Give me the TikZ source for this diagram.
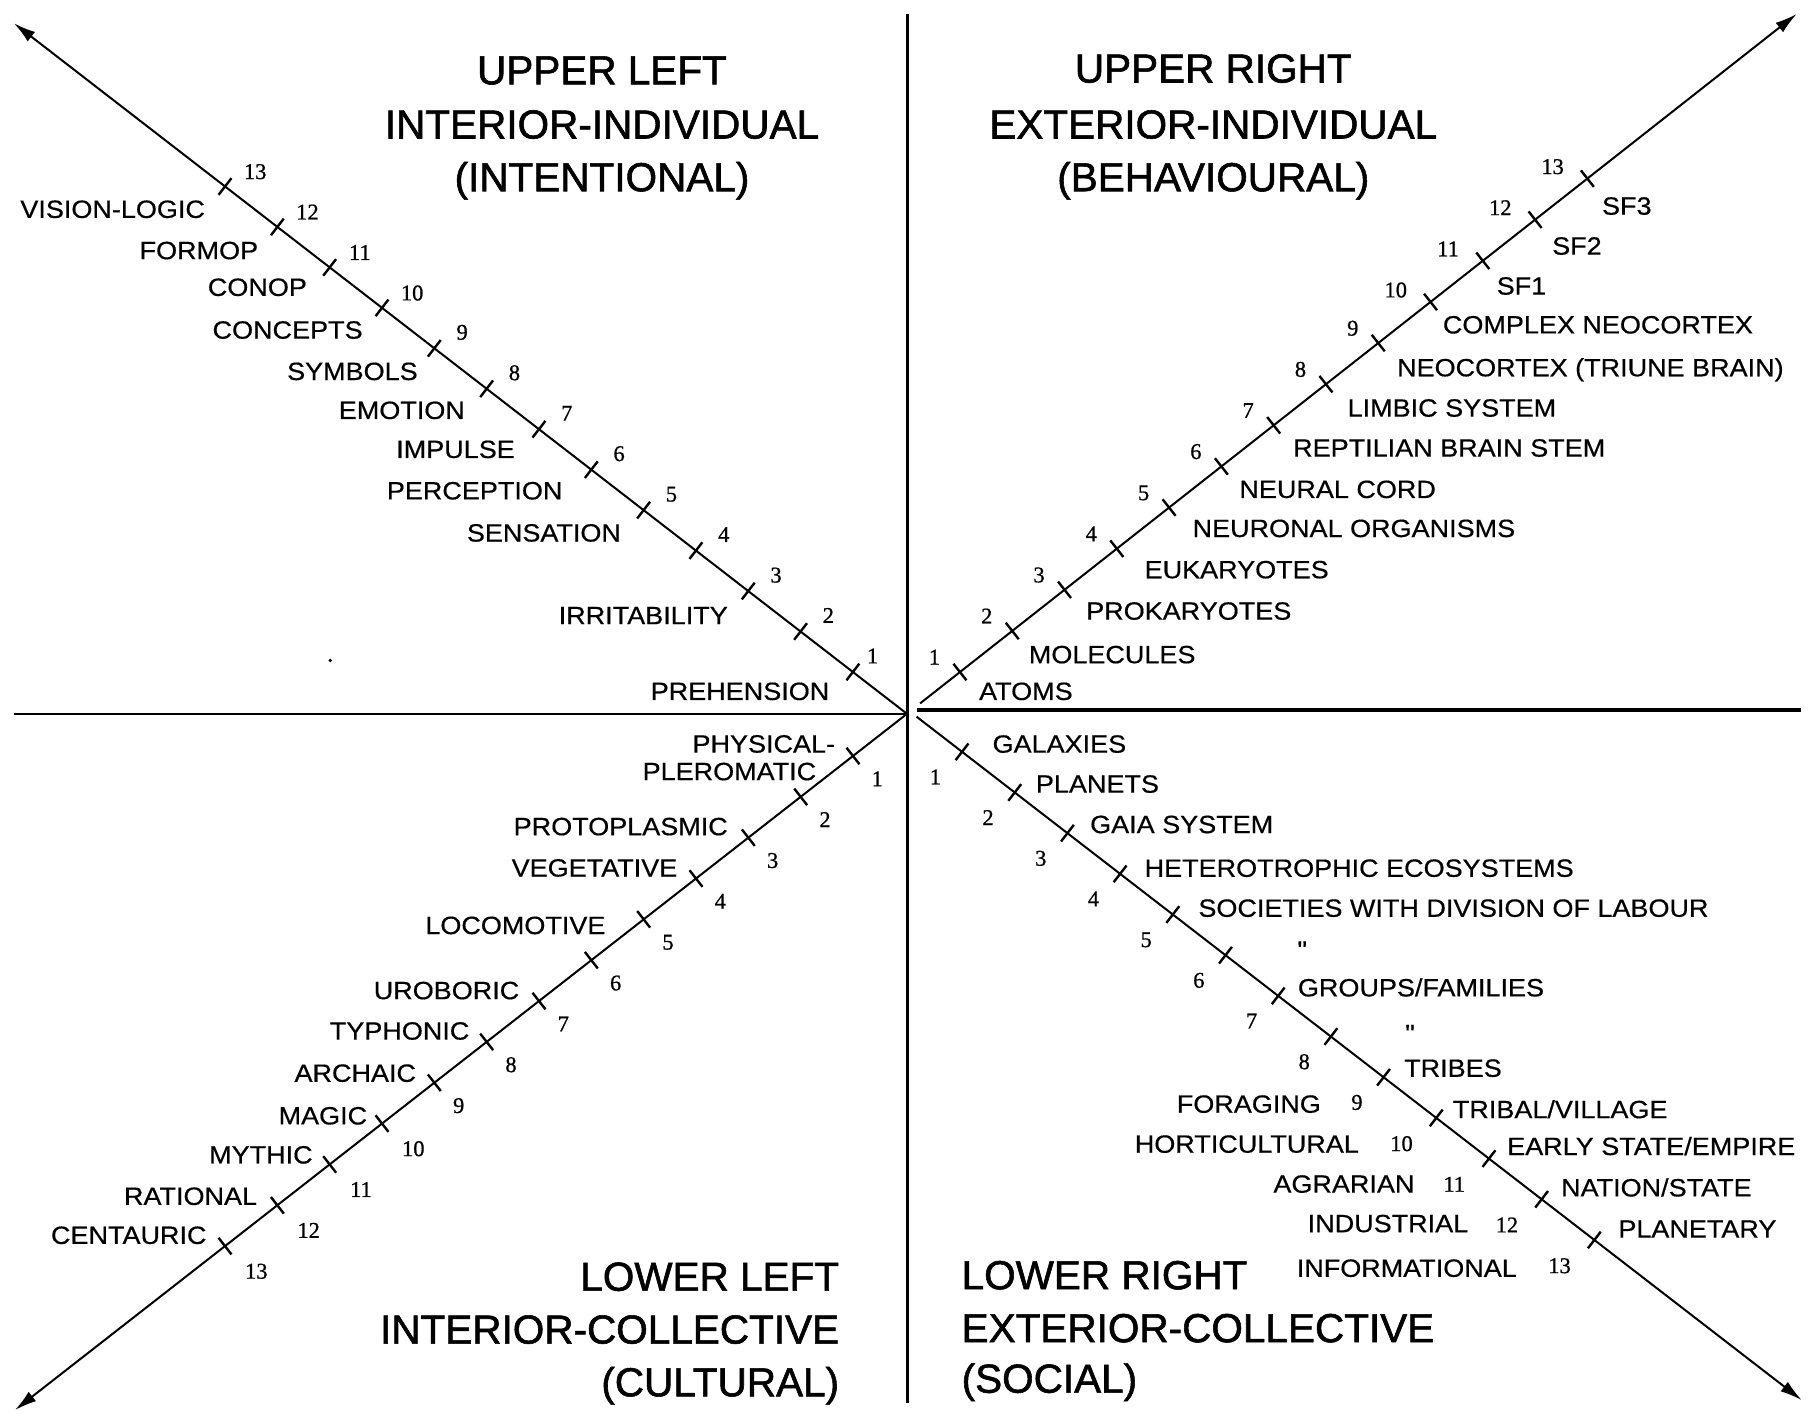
\documentclass[tikz,border=0pt]{standalone}
\usepackage{fontspec}
\setmainfont{Liberation Sans}
\newfontfamily\headfont[FakeBold=1.4]{Liberation Sans}
\newfontfamily\labfont[FakeStretch=1.08,FakeBold=0.5]{Liberation Sans}
\newfontfamily\numfont[FakeBold=0.8]{Liberation Serif}
\usetikzlibrary{arrows.meta,calc}
\begin{document}
\begin{tikzpicture}[x=1.1588pt,y=-1.1588pt,
  axisline/.style={line width=3pt,black},
  diag/.style={line width=2pt,-{Latex[length=22pt,width=12pt]}},
  tickmark/.style={line width=2.4pt},
  lab/.style={font=\labfont\fontsize{25}{30}\selectfont,inner sep=0pt,text height=17.9pt,text depth=0pt},
  num/.style={font=\numfont\fontsize{22.5}{27}\selectfont,inner sep=0pt,text height=15.2pt,text depth=0pt},
  head/.style={font=\headfont\fontsize{40.5}{48}\selectfont,inner sep=0pt,text height=29pt,text depth=0pt},
]
\useasboundingbox (0,0) rectangle (1568,1226.3);
\fill[white] (0,0) rectangle (1568,1226.3);

% axes
\coordinate (C) at (782.7,616);
\coordinate (Vt) at (782.7,12);
\coordinate (Vb) at (782.7,1211);
\coordinate (HL) at (12,616);
\coordinate (HR0) at (791,612.7);
\coordinate (HR) at (1554,612.7);
\draw[axisline] (Vt) -- (Vb);
\draw[line width=2.4pt] (HL) -- (C);
\draw[line width=3.6pt] (HR0) -- (HR);

% diagonals
\coordinate (ULs) at (782.7,616);  \coordinate (ULt) at (12,20);
\coordinate (URs) at (794,607);    \coordinate (URt) at (1550.5,12);
\coordinate (LLs) at (782.7,616);  \coordinate (LLt) at (12.9,1216.8);
\coordinate (LRs) at (791,618.5);  \coordinate (LRt) at (1554.8,1208.2);
\draw[diag] (ULs) -- (ULt);
\draw[diag] (URs) -- (URt);
\draw[diag] (LLs) -- (LLt);
\draw[diag] (LRs) -- (LRt);

% ticks and numbers
\foreach \k in {1,...,13}{
  \pgfmathsetmacro\xa{736-45.15*(\k-1)}
  \pgfmathsetmacro\ya{616-(782.7-\xa)*0.7733}
  \coordinate (ul\k) at (\xa,\ya);
  \pgfmathsetmacro\xb{828.4+45.12*(\k-1)}
  \pgfmathsetmacro\yb{607-(\xb-794)*0.7865}
  \coordinate (ur\k) at (\xb,\yb);
  \pgfmathsetmacro\xc{736.1-45.16*(\k-1)}
  \pgfmathsetmacro\yc{616+(782.7-\xc)*0.7805}
  \coordinate (ll\k) at (\xc,\yc);
  \pgfmathsetmacro\xd{830.2+45.47*(\k-1)}
  \pgfmathsetmacro\yd{618.5+(\xd-791)*0.7721}
  \coordinate (lr\k) at (\xd,\yd);
  \draw[tickmark] ($(ul\k)!10.5pt!90:(ULt)$) -- ($(ul\k)!10.5pt!-90:(ULt)$);
  \draw[tickmark] ($(ur\k)!10.5pt!90:(URt)$) -- ($(ur\k)!10.5pt!-90:(URt)$);
  \draw[tickmark] ($(ll\k)!10.5pt!90:(LLt)$) -- ($(ll\k)!10.5pt!-90:(LLt)$);
  \draw[tickmark] ($(lr\k)!10.5pt!90:(LRt)$) -- ($(lr\k)!10.5pt!-90:(LRt)$);
  \ifnum\k<10
    \node[num] (nur\k) at ($(ur\k)+(-22,-13)$) {\k};
    \node[num] (nll\k) at ($(ll\k)+(21,19.5)$) {\k};
    \node[num] (nlr\k) at ($(lr\k)+(-23,21.5)$) {\k};
  \else
    \node[num] (nur\k) at ($(ur\k)+(-30,-10.5)$) {\k};
    \node[num] (nll\k) at ($(ll\k)+(27,21.5)$) {\k};
    \node[num] (nlr\k) at ($(lr\k)+(-30,22)$) {\k};
  \fi
  \ifnum\k=1
    \node[num] (nul\k) at ($(ul\k)+(17,-14)$) {\k};
  \else
    \ifnum\k<10
      \node[num] (nul\k) at ($(ul\k)+(24,-14)$) {\k};
    \else
      \node[num] (nul\k) at ($(ul\k)+(26,-13)$) {\k};
    \fi
  \fi
}

% upper left labels
\node[lab,anchor=east] (a13) at (177,180.3) {VISION-LOGIC};
\node[lab,anchor=east] (a12) at (222.9,215.9) {FORMOP};
\node[lab,anchor=east] (a11) at (265,247.6) {CONOP};
\node[lab,anchor=east] (a10) at (313.1,284.5) {CONCEPTS};
\node[lab,anchor=east] (a9) at (360.6,320.2) {SYMBOLS};
\node[lab,anchor=east] (a8) at (401.3,353.8) {EMOTION};
\node[lab,anchor=east] (a7) at (444.4,387.5) {IMPULSE};
\node[lab,anchor=east] (a6) at (485.5,423.2) {PERCEPTION};
\node[lab,anchor=east] (a5) at (536,459.6) {SENSATION};
\node[lab,anchor=east] (a3) at (628.2,530.9) {IRRITABILITY};
\node[lab,anchor=east] (a1) at (715.8,596.3) {PREHENSION};
\fill (285,570) circle[radius=1.8pt];

% upper right labels
\node[lab,anchor=west] (b1) at (844.8,596.3) {ATOMS};
\node[lab,anchor=west] (b2) at (887.7,564.6) {MOLECULES};
\node[lab,anchor=west] (b3) at (937.2,527) {PROKARYOTES};
\node[lab,anchor=west] (b4) at (987.6,491.3) {EUKARYOTES};
\node[lab,anchor=west] (b5) at (1029,455.7) {NEURONAL ORGANISMS};
\node[lab,anchor=west] (b6) at (1069.4,422) {NEURAL CORD};
\node[lab,anchor=west] (b7) at (1115.8,386.3) {REPTILIAN BRAIN STEM};
\node[lab,anchor=west] (b8) at (1162.8,351.8) {LIMBIC SYSTEM};
\node[lab,anchor=west] (b9) at (1205.5,317) {NEOCORTEX (TRIUNE BRAIN)};
\node[lab,anchor=west] (b10) at (1245,280) {COMPLEX NEOCORTEX};
\node[lab,anchor=west] (b11) at (1291.4,246.5) {SF1};
\node[lab,anchor=west] (b12) at (1339.3,212) {SF2};
\node[lab,anchor=west] (b13) at (1382.3,177.5) {SF3};

% lower left labels
\node[lab,anchor=east] (c1a) at (720.8,641.7) {PHYSICAL-};
\node[lab,anchor=east] (c1b) at (704.5,665.5) {PLEROMATIC};
\node[lab,anchor=east] (c3) at (628.2,713) {PROTOPLASMIC};
\node[lab,anchor=east] (c4) at (584.6,748.7) {VEGETATIVE};
\node[lab,anchor=east] (c5) at (522.6,798.3) {LOCOMOTIVE};
\node[lab,anchor=east] (c7) at (448.3,854.5) {UROBORIC};
\node[lab,anchor=east] (c8) at (405.2,889.4) {TYPHONIC};
\node[lab,anchor=east] (c9) at (359.2,925.8) {ARCHAIC};
\node[lab,anchor=east] (c10) at (317,962.6) {MAGIC};
\node[lab,anchor=east] (c11) at (270,996.3) {MYTHIC};
\node[lab,anchor=east] (c12) at (222,1032) {RATIONAL};
\node[lab,anchor=east] (c13) at (178.4,1065.7) {CENTAURIC};

% lower right labels
\node[lab,anchor=west] (d1) at (856.4,641.8) {GALAXIES};
\node[lab,anchor=west] (d2) at (893.8,676.3) {PLANETS};
\node[lab,anchor=west] (d3) at (940.6,711.2) {GAIA SYSTEM};
\node[lab,anchor=west] (d4) at (987.6,748.9) {HETEROTROPHIC ECOSYSTEMS};
\node[lab,anchor=west] (d5) at (1034,783.4) {SOCIETIES WITH DIVISION OF LABOUR};
\node[lab] (d6) at (1123.8,819.5) {"};
\node[lab,anchor=west] (d7) at (1119.9,852.1) {GROUPS/FAMILIES};
\node[lab] (d8) at (1216.8,891.6) {"};
\node[lab,anchor=west] (d9) at (1211.6,921.5) {TRIBES};
\node[lab,anchor=west] (d10) at (1253.6,957.2) {TRIBAL/VILLAGE};
\node[lab,anchor=west] (d11) at (1300.5,989) {EARLY STATE/EMPIRE};
\node[lab,anchor=west] (d12) at (1347,1024.7) {NATION/STATE};
\node[lab,anchor=west] (d13) at (1396.4,1060.3) {PLANETARY};
\node[lab,anchor=east] (e9) at (1140,952.5) {FORAGING};
\node[lab,anchor=east] (e10) at (1172.8,987) {HORTICULTURAL};
\node[lab,anchor=east] (e11) at (1220.8,1021.5) {AGRARIAN};
\node[lab,anchor=east] (e12) at (1267.2,1055.6) {INDUSTRIAL};
\node[lab,anchor=east] (e13) at (1309.1,1094.1) {INFORMATIONAL};

% quadrant headings
\node[head] (h1a) at (519.5,60.2) {UPPER LEFT};
\node[head] (h1b) at (519.5,107) {INTERIOR-INDIVIDUAL};
\node[head] (h1c) at (519.5,152.5) {(INTENTIONAL)};
\node[head] (h2a) at (1047,58.7) {UPPER RIGHT};
\node[head] (h2b) at (1047,107) {EXTERIOR-INDIVIDUAL};
\node[head] (h2c) at (1047,152.5) {(BEHAVIOURAL)};
\node[head,anchor=east] (h3a) at (724.3,1101.3) {LOWER LEFT};
\node[head,anchor=east] (h3b) at (724.3,1146.9) {INTERIOR-COLLECTIVE};
\node[head,anchor=east] (h3c) at (724.3,1192.4) {(CULTURAL)};
\node[head,anchor=west] (h4a) at (829.7,1100) {LOWER RIGHT};
\node[head,anchor=west] (h4b) at (829.7,1145.7) {EXTERIOR-COLLECTIVE};
\node[head,anchor=west] (h4c) at (829.7,1189.3) {(SOCIAL)};
\end{tikzpicture}
\end{document}
